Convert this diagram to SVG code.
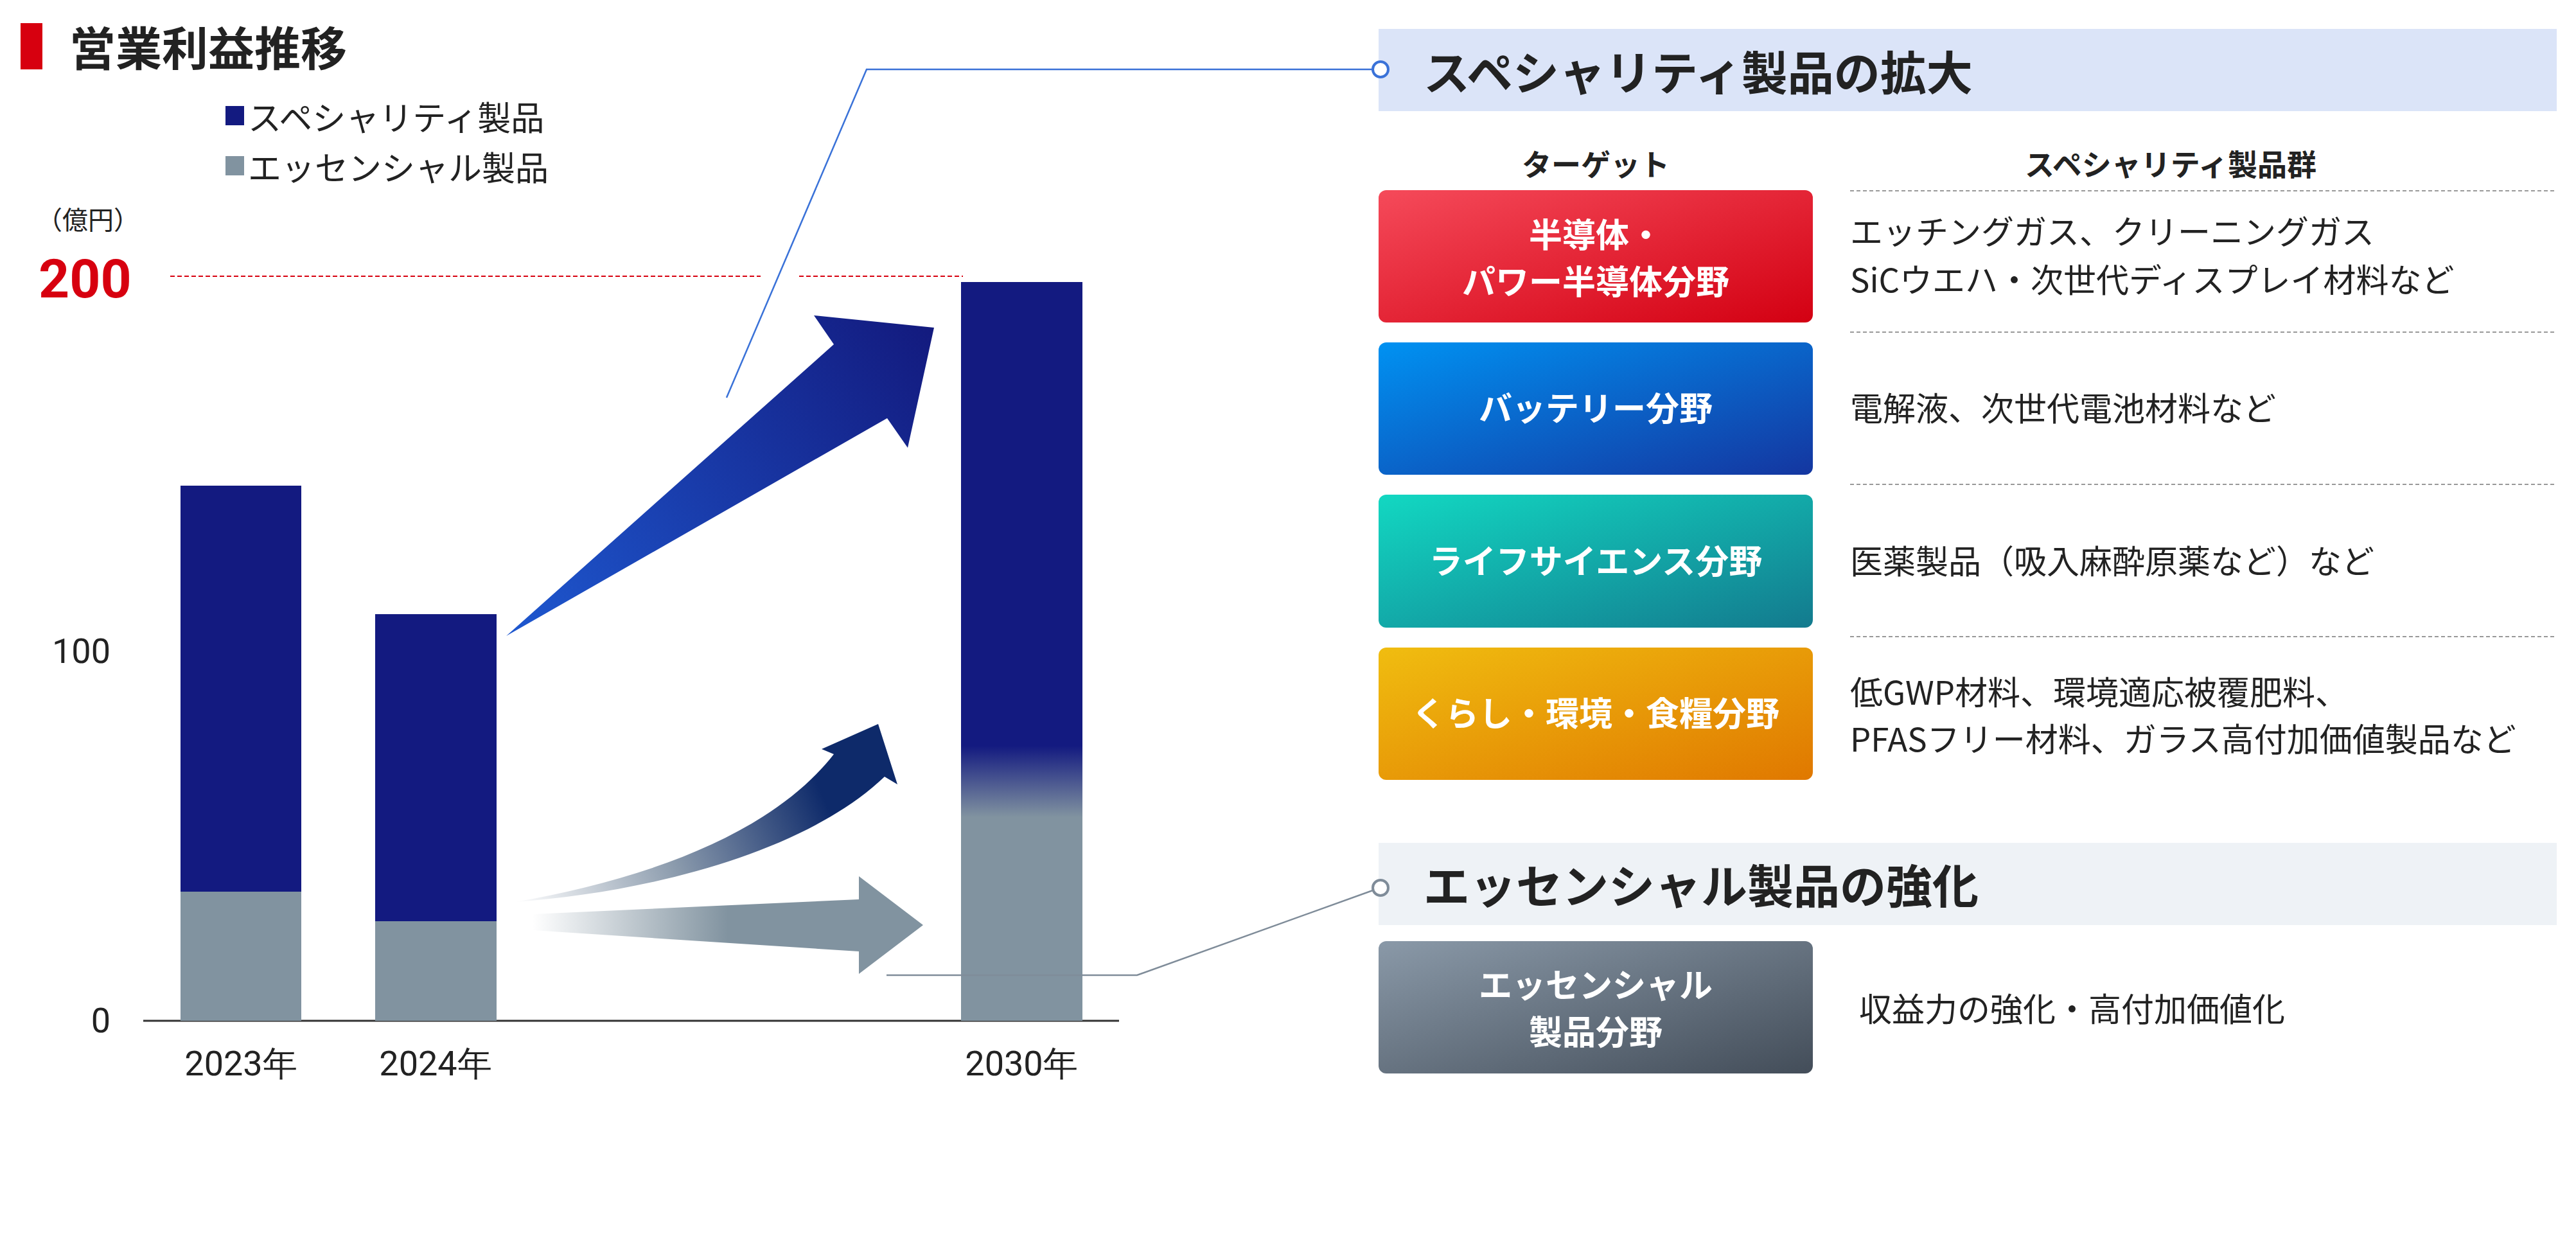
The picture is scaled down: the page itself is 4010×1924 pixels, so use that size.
<svg xmlns="http://www.w3.org/2000/svg" width="4010" height="1924" viewBox="0 0 4010 1924">
<style>
text{font-family:"Noto Sans CJK JP","Liberation Sans",sans-serif;fill:#222}
.ax{font-family:"Roboto","Liberation Sans",sans-serif;font-size:54px;fill:#222}
.bw{fill:#fff;font-weight:bold;font-size:52px;text-anchor:middle}
.rt{font-size:51px}
.dl{stroke:#999;stroke-width:2;stroke-dasharray:6 4}
</style>
<defs>
<linearGradient id="gR" x1="0" y1="0" x2="1" y2="1"><stop offset="0" stop-color="#f54a5a"/><stop offset="1" stop-color="#d30012"/></linearGradient>
<linearGradient id="gB" x1="0" y1="0" x2="1" y2="1"><stop offset="0" stop-color="#0092f2"/><stop offset="1" stop-color="#1436a0"/></linearGradient>
<linearGradient id="gT" x1="0" y1="0" x2="1" y2="1"><stop offset="0" stop-color="#12d8c2"/><stop offset="1" stop-color="#137a8e"/></linearGradient>
<linearGradient id="gO" x1="0" y1="0" x2="1" y2="1"><stop offset="0" stop-color="#f0bd10"/><stop offset="1" stop-color="#e07800"/></linearGradient>
<linearGradient id="gG" x1="0" y1="0" x2="1" y2="1"><stop offset="0" stop-color="#8a99a8"/><stop offset="1" stop-color="#434d59"/></linearGradient>
<linearGradient id="gBar" gradientUnits="userSpaceOnUse" x1="0" y1="1161" x2="0" y2="1272"><stop offset="0" stop-color="#131a80"/><stop offset="1" stop-color="#8193a0"/></linearGradient>
<linearGradient id="gA1" gradientUnits="userSpaceOnUse" x1="788" y1="990" x2="1454" y2="510"><stop offset="0" stop-color="#1e58d0"/><stop offset="1" stop-color="#131a7e"/></linearGradient>
<linearGradient id="gA2" gradientUnits="userSpaceOnUse" x1="801" y1="1404" x2="1380" y2="1150"><stop offset="0" stop-color="#8a9aac" stop-opacity="0"/><stop offset="0.4" stop-color="#8a9aac"/><stop offset="0.8" stop-color="#0e2a6a"/><stop offset="1" stop-color="#0e2a6a"/></linearGradient>
<linearGradient id="gA3" gradientUnits="userSpaceOnUse" x1="829" y1="0" x2="1437" y2="0"><stop offset="0" stop-color="#8193a0" stop-opacity="0"/><stop offset="0.5" stop-color="#8193a0"/><stop offset="1" stop-color="#8193a0"/></linearGradient>
</defs>

<g id="title"><rect x="32" y="36" width="34" height="72" fill="#d7000f"/><text x="108" y="102" font-size="72" font-weight="bold">営業利益推移</text></g>
<g id="legend">
<rect x="351" y="165" width="29" height="30" fill="#131a80"/><text x="386" y="203" font-size="52">スペシャリティ製品</text>
<rect x="351" y="243" width="29" height="30" fill="#8193a0"/><text x="386" y="281" font-size="52">エッセンシャル製品</text>
</g>
<g id="axis">
<text x="57" y="357" font-size="40">（億円）</text>
<text x="60" y="463" font-size="84" font-weight="bold" style="fill:#d7000f;font-family:'Roboto','Liberation Sans',sans-serif">200</text>
<line x1="265" y1="430" x2="1184" y2="430" stroke="#d7000f" stroke-width="2" stroke-dasharray="7 4"/>
<line x1="1244" y1="430" x2="1499" y2="430" stroke="#d7000f" stroke-width="2" stroke-dasharray="7 4"/>
<text class="ax" x="172" y="1032" text-anchor="end">100</text>
<text class="ax" x="172" y="1607" text-anchor="end">0</text>
<line x1="223" y1="1589" x2="1742" y2="1589" stroke="#333" stroke-width="3"/>
<text class="ax" x="375" y="1674" text-anchor="middle">2023年</text>
<text class="ax" x="678" y="1674" text-anchor="middle">2024年</text>
<text class="ax" x="1590" y="1674" text-anchor="middle">2030年</text>
</g>
<g id="bars">
<rect x="281" y="756" width="188" height="632" fill="#131a80"/><rect x="281" y="1388" width="188" height="201" fill="#8193a0"/>
<rect x="584" y="956" width="189" height="478" fill="#131a80"/><rect x="584" y="1434" width="189" height="155" fill="#8193a0"/>
<rect x="1496" y="439" width="189" height="1150" fill="url(#gBar)"/>
</g>
<g id="arrows">
<polygon points="788,990 1298,536 1267,491 1454,510 1413,697 1381,651" fill="url(#gA1)"/>
<path d="M801,1404 C1000,1370 1200,1300 1298,1174 L1279,1166 L1367,1127 L1397,1221 L1377,1209 C1250,1330 1000,1390 801,1404 Z" fill="url(#gA2)"/>
<polygon points="829,1423 1337,1400 1337,1364 1437,1440 1337,1516 1337,1481 829,1448" fill="url(#gA3)"/>
</g>
<g id="header1"><rect x="2146" y="45" width="1834" height="128" fill="#dbe4f8"/><text x="2216" y="140" font-size="72" font-weight="bold">スペシャリティ製品の拡大</text></g>
<g id="header2"><rect x="2146" y="1312" width="1834" height="128" fill="#eef2f6"/><text x="2216" y="1406" font-size="72" font-weight="bold">エッセンシャル製品の強化</text></g>
<g id="connectors" fill="none">
<polyline points="1131,619 1349,108 2137,108" stroke="#3a72d8" stroke-width="2.5"/>
<polyline points="1380,1518 1770,1518 2137,1386" stroke="#7f8c99" stroke-width="2.5"/>
<circle cx="2149" cy="108" r="12" fill="#fff" stroke="#3a72d8" stroke-width="4"/>
<circle cx="2149" cy="1382" r="12" fill="#fff" stroke="#7f8c99" stroke-width="4"/>
</g>
<g id="colheads"><text x="2484" y="273" font-size="46" font-weight="bold" text-anchor="middle">ターゲット</text><text x="3379" y="273" font-size="46" font-weight="bold" text-anchor="middle">スペシャリティ製品群</text></g>
<g id="dividers"><line class="dl" x1="2880" y1="297" x2="3979" y2="297"/><line class="dl" x1="2880" y1="517" x2="3979" y2="517"/><line class="dl" x1="2880" y1="754" x2="3979" y2="754"/><line class="dl" x1="2880" y1="991" x2="3979" y2="991"/></g>
<g id="semi"><rect x="2146" y="296" width="676" height="206" rx="12" fill="url(#gR)"/><text class="bw" x="2484" y="385">半導体・</text><text class="bw" x="2484" y="458">パワー半導体分野</text><text class="rt" x="2880" y="380">エッチングガス、クリーニングガス</text><text class="rt" x="2880" y="455">SiCウエハ・次世代ディスプレイ材料など</text></g>
<g id="battery"><rect x="2146" y="533" width="676" height="206" rx="12" fill="url(#gB)"/><text class="bw" x="2484" y="655">バッテリー分野</text><text class="rt" x="2880" y="655">電解液、次世代電池材料など</text></g>
<g id="life"><rect x="2146" y="770" width="676" height="207" rx="12" fill="url(#gT)"/><text class="bw" x="2484" y="893">ライフサイエンス分野</text><text class="rt" x="2880" y="893">医薬製品（吸入麻酔原薬など）など</text></g>
<g id="kurashi"><rect x="2146" y="1008" width="676" height="206" rx="12" fill="url(#gO)"/><text class="bw" x="2484" y="1130">くらし・環境・食糧分野</text><text class="rt" x="2880" y="1097">低GWP材料、環境適応被覆肥料、</text><text class="rt" x="2880" y="1170">PFASフリー材料、ガラス高付加価値製品など</text></g>
<g id="essential"><rect x="2146" y="1465" width="676" height="206" rx="12" fill="url(#gG)"/><text class="bw" x="2484" y="1553">エッセンシャル</text><text class="bw" x="2484" y="1626">製品分野</text><text class="rt" x="2894" y="1590">収益力の強化・高付加価値化</text></g>
</svg>
